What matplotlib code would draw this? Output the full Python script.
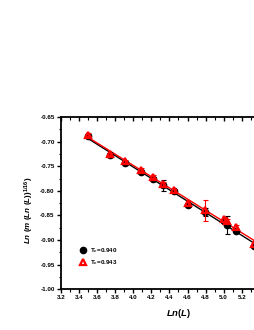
import numpy as np
import matplotlib
matplotlib.use("Agg")
import matplotlib.pyplot as plt
from matplotlib import ticker, lines

plt.rcParams["font.family"] = ["Liberation Sans", "DejaVu Sans"]
plt.rcParams["font.weight"] = "bold"
plt.rcParams["mathtext.fontset"] = "custom"
plt.rcParams["mathtext.it"] = "Liberation Sans:italic:bold"
plt.rcParams["mathtext.rm"] = "Liberation Sans:bold"
plt.rcParams["mathtext.bf"] = "Liberation Sans:bold"

# ln(L) values
lnL = [3.50, 3.74, 3.91, 4.09, 4.22, 4.33, 4.45, 4.61, 4.79, 5.00, 5.04, 5.14, 5.33]
# Tc = 0.940 (black circles)
y_940 = [-0.689, -0.727, -0.744, -0.761, -0.775, -0.789, -0.801, -0.829, -0.843,
         -0.862, -0.870, -0.881, -0.912]
err_940 = [0.003, 0.003, 0.003, 0.003, 0.003, 0.012, 0.004, 0.004, 0.008,
           0.004, 0.018, 0.004, 0.004]
# Tc = 0.943 (red triangles)
y_943 = [-0.686, -0.725, -0.740, -0.757, -0.771, -0.786, -0.799, -0.824, -0.840,
         -0.858, -0.862, -0.874, -0.908]
err_943 = [0.003, 0.003, 0.003, 0.003, 0.003, 0.004, 0.003, 0.004, 0.022,
           0.004, 0.004, 0.004, 0.004]

fig = plt.figure(figsize=(2.55, 3.30), dpi=100)
# axes run past the right edge of the figure, like the cropped original
ax = fig.add_axes([0.239, 0.124, 0.78, 0.521])

x = np.array(lnL)
xf = np.array([3.50, 5.45])
p1 = np.polyfit(x, y_940, 1)
p2 = np.polyfit(x, y_943, 1)
ax.plot(xf, np.polyval(p1, xf), color="black", lw=1.0, zorder=2)
ax.plot(xf, np.polyval(p2, xf), color="red", lw=1.0, zorder=3)

ax.errorbar(x, y_940, yerr=err_940, fmt="none", ecolor="black",
            elinewidth=0.8, capsize=1.8, capthick=0.8, zorder=4)
ax.plot(x, y_940, "o", color="black", ms=4.5, label=r"T$_c$=0.940", zorder=4)
ax.errorbar(x, y_943, yerr=err_943, fmt="none", ecolor="red",
            elinewidth=0.8, capsize=1.8, capthick=0.8, zorder=5)
ax.plot(x, y_943, "^", mfc="none", mec="red", mew=1.6, ms=4.5,
        label=r"T$_c$=0.943", zorder=5)

ax.set_xlim(3.2, 5.4)
ax.set_ylim(-1.00, -0.65)
ax.set_xticks(np.arange(3.2, 5.21, 0.2))
ax.set_xticks(np.arange(3.3, 5.41, 0.2), minor=True)
ax.set_yticks(np.arange(-1.00, -0.649, 0.05))
ax.set_yticks(np.arange(-0.975, -0.65, 0.05), minor=True)
ax.xaxis.set_major_formatter(ticker.FormatStrFormatter("%.1f"))
ax.yaxis.set_major_formatter(ticker.FormatStrFormatter("%.2f"))

for s in ax.spines.values():
    s.set_linewidth(1.3)
ax.spines["right"].set_visible(False)
ax.tick_params(axis="both", which="major", labelsize=4.5, width=1.0, length=3,
               direction="out", pad=1.5)
ax.tick_params(axis="both", which="minor", width=0.8, length=1.8, direction="out")
ax.tick_params(axis="x", which="both", top=True)
ax.tick_params(axis="y", which="both", right=False)

# top ticks pointing into the plot
for t in ax.xaxis.get_major_ticks() + ax.xaxis.get_minor_ticks():
    t.tick2line.set_marker(lines.TICKDOWN)

ax.set_xlabel(r"$Ln(L)$", fontsize=6.8)
ax.xaxis.set_label_coords(0.59, -0.105)
ax.set_ylabel(r"$Ln\ (m\ (Ln\ (L))^{1/16})$", fontsize=5.8)
ax.yaxis.set_label_coords(-0.125, 0.46)

ax.legend(loc="upper left", bbox_to_anchor=(0.065, 0.285), frameon=False,
          fontsize=4.5, handletextpad=0.5, labelspacing=0.55, handlelength=1.2)

fig.savefig("out.png", dpi=100)
